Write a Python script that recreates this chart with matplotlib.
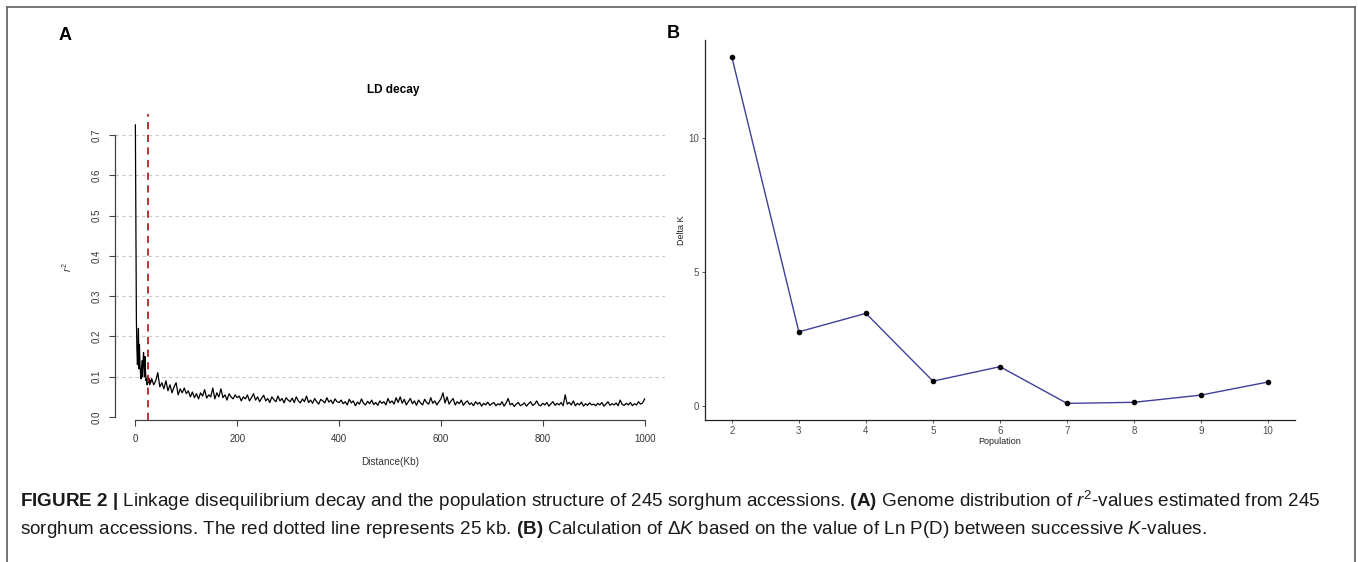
import numpy as np
import matplotlib
matplotlib.use("Agg")
import matplotlib.pyplot as plt
from matplotlib.lines import Line2D

plt.rcParams['font.family'] = ['Liberation Sans', 'DejaVu Sans']
plt.rcParams['mathtext.fontset'] = 'custom'
plt.rcParams['mathtext.rm'] = 'Liberation Sans'
plt.rcParams['mathtext.it'] = 'Liberation Sans:italic'
plt.rcParams['mathtext.bf'] = 'Liberation Sans:bold'

# ---------------- data ----------------
# Panel A: LD decay (distance in Kb, r^2)
ld_distance_start = list(range(0, 31))
ld_r2_start = [0.725, 0.49, 0.24, 0.17, 0.13, 0.15, 0.22, 0.12, 0.18, 0.13,
               0.11, 0.095, 0.12, 0.14, 0.10, 0.13, 0.16, 0.14, 0.10, 0.15,
               0.11, 0.09, 0.095, 0.08, 0.10, 0.09, 0.085, 0.095, 0.08, 0.09, 0.085]
ld_distance_rest = list(range(32, 1001, 4))
ld_r2_rest = [
    # 32-100
    0.095, 0.08, 0.09, 0.11, 0.075, 0.085, 0.07, 0.09, 0.065, 0.08, 0.06, 0.075,
    0.085, 0.055, 0.07, 0.06, 0.072, 0.058,
    # 104-200
    0.065, 0.05, 0.062, 0.048, 0.058, 0.045, 0.06, 0.052, 0.068, 0.047, 0.055, 0.05,
    0.072, 0.045, 0.06, 0.05, 0.07, 0.048, 0.055, 0.042, 0.058, 0.05, 0.045, 0.055, 0.048,
    # 204-300
    0.052, 0.04, 0.05, 0.045, 0.055, 0.04, 0.048, 0.058, 0.042, 0.05, 0.038, 0.047,
    0.054, 0.04, 0.046, 0.036, 0.05, 0.043, 0.038, 0.052, 0.04, 0.046, 0.035, 0.048, 0.042,
    # 304-400
    0.038, 0.047, 0.036, 0.05, 0.04, 0.035, 0.045, 0.038, 0.052, 0.036, 0.042, 0.034,
    0.046, 0.038, 0.032, 0.044, 0.04, 0.035, 0.048, 0.037, 0.042, 0.033, 0.045, 0.038, 0.036,
    # 404-500
    0.042, 0.033, 0.038, 0.03, 0.044, 0.035, 0.04, 0.028, 0.037, 0.032, 0.045, 0.034,
    0.03, 0.039, 0.033, 0.042, 0.031, 0.036, 0.029, 0.04, 0.034, 0.038, 0.03, 0.046, 0.035,
    # 504-600
    0.04, 0.032, 0.048, 0.036, 0.05, 0.034, 0.044, 0.03, 0.038, 0.046, 0.033, 0.04,
    0.029, 0.042, 0.035, 0.03, 0.044, 0.036, 0.032, 0.048, 0.034, 0.04, 0.03, 0.038, 0.045,
    # 604-700
    0.06, 0.035, 0.05, 0.032, 0.04, 0.046, 0.03, 0.038, 0.033, 0.042, 0.029, 0.036,
    0.04, 0.031, 0.035, 0.028, 0.038, 0.032, 0.036, 0.027, 0.034, 0.03, 0.037, 0.029, 0.033,
    # 704-800
    0.036, 0.028, 0.033, 0.03, 0.038, 0.027, 0.035, 0.046, 0.03, 0.034, 0.026, 0.032,
    0.036, 0.028, 0.031, 0.035, 0.027, 0.033, 0.038, 0.029, 0.032, 0.04, 0.03, 0.028, 0.034,
    # 804-900
    0.03, 0.036, 0.027, 0.033, 0.038, 0.029, 0.034, 0.03, 0.036, 0.028, 0.055, 0.032,
    0.036, 0.03, 0.04, 0.028, 0.034, 0.03, 0.037, 0.027, 0.033, 0.029, 0.035, 0.03, 0.032,
    # 904-1000
    0.028, 0.034, 0.03, 0.036, 0.027, 0.032, 0.038, 0.029, 0.033, 0.03, 0.035, 0.028,
    0.042, 0.031, 0.029, 0.034, 0.03, 0.036, 0.028, 0.033, 0.03, 0.038, 0.032, 0.035, 0.045,
]
ld_distance = ld_distance_start + ld_distance_rest
ld_r2 = ld_r2_start + ld_r2_rest
n = min(len(ld_distance), len(ld_r2))
ld_distance, ld_r2 = ld_distance[:n], ld_r2[:n]

ld_threshold_kb = 25
a_xticks = [0, 200, 400, 600, 800, 1000]
a_yticks = [0.0, 0.1, 0.2, 0.3, 0.4, 0.5, 0.6, 0.7]

# Panel B: Delta K
k_values = [2, 3, 4, 5, 6, 7, 8, 9, 10]
delta_k = [13.03, 2.77, 3.46, 0.93, 1.47, 0.10, 0.14, 0.41, 0.90]
b_yticks = [0, 5, 10]

caption_line1 = (r"$\mathbf{FIGURE\ 2\ |}$ Linkage disequilibrium decay and the population structure "
                 r"of 245 sorghum accessions. $\mathbf{(A)}$ Genome distribution of "
                 r"$\mathit{r}^{2}$-values estimated from 245")
caption_line2 = (r"sorghum accessions. The red dotted line represents 25 kb. $\mathbf{(B)}$ "
                 r"Calculation of $\Delta\mathit{K}$ based on the value of Ln P(D) between "
                 r"successive $\mathit{K}$-values.")

# ---------------- figure ----------------
W, H = 1358, 562
fig = plt.figure(figsize=(W / 100, H / 100), dpi=100)
fig.patch.set_facecolor('white')


def fx(x):
    return x / W


def fy(y):
    return 1 - y / H


# border
for (x0, y0, x1, y1) in [(7, 7, 1355, 7), (7, 7, 7, 562), (1355, 7, 1355, 562)]:
    fig.add_artist(Line2D([fx(x0), fx(x1)], [fy(y0), fy(y1)], transform=fig.transFigure,
                          color='#6a6a6a', lw=1.3))

fig.text(fx(65), fy(35), 'A', fontsize=13, fontweight='bold', ha='center', va='center')
fig.text(fx(673), fy(33), 'B', fontsize=13, fontweight='bold', ha='center', va='center')

# ---------- Panel A ----------
axA = fig.add_axes([fx(115), fy(420), (665 - 115) / W, (420 - 114) / H])
axA.set_xlim(-40, 1040)
axA.set_ylim(-0.0074, 0.752)
for yv in a_yticks[1:]:
    axA.axhline(yv, color='#c8c8c8', lw=0.8, ls=(0, (3, 3)), zorder=0)
axA.plot(ld_distance, ld_r2, color='black', lw=0.9, zorder=2)
axA.axvline(ld_threshold_kb, color='#b22222', lw=1.3, ls=(0, (4, 3)), zorder=3)
for s in ['top', 'right']:
    axA.spines[s].set_visible(False)
axA.spines['left'].set_bounds(0, 0.7)
axA.spines['bottom'].set_bounds(0, 1000)
for s in ['left', 'bottom']:
    axA.spines[s].set_color('#444444')
    axA.spines[s].set_linewidth(0.9)
axA.set_xticks(a_xticks)
axA.set_xticklabels([str(v) for v in a_xticks])
axA.set_yticks(a_yticks)
axA.set_yticklabels([f"{v:.1f}" for v in a_yticks], rotation=90, va='center')
axA.tick_params(axis='both', length=4, width=0.8, color='#444444', labelcolor='#333333',
                labelsize=7)
axA.tick_params(axis='x', pad=6)
axA.tick_params(axis='y', pad=5.5)
fig.text(fx(393), fy(90), 'LD decay', fontsize=8.5, fontweight='bold', ha='center', va='center')
fig.text(fx(390), fy(462), 'Distance(Kb)', fontsize=7.2, color='#333333', ha='center', va='center')
fig.text(fx(67), fy(267), r'$r^2$', fontsize=7.5, color='#333333', ha='center', va='center',
         rotation=90)
axA.patch.set_alpha(0)

# ---------- Panel B ----------
axB = fig.add_axes([fx(705), fy(420), (1295 - 705) / W, (420 - 40) / H])
axB.set_xlim(1.6, 10.4)
axB.set_ylim(-0.52, 13.66)
axB.plot(k_values, delta_k, color='#40409a', lw=1.0, zorder=2)
axB.scatter(k_values, delta_k, s=9, color='black', zorder=3)
for s in ['top', 'right']:
    axB.spines[s].set_visible(False)
for s in ['left', 'bottom']:
    axB.spines[s].set_color('#222222')
    axB.spines[s].set_linewidth(0.9)
axB.set_xticks(k_values)
axB.set_yticks(b_yticks)
axB.tick_params(axis='both', length=2.5, width=0.7, color='#555555', labelcolor='#4d4d4d',
                labelsize=7, pad=2)
fig.text(fx(682), fy(230), 'Delta K', fontsize=6.5, color='#222222', ha='center', va='center',
         rotation=90)
fig.text(fx(1000), fy(441), 'Population', fontsize=6.5, color='#222222', ha='center', va='center')

# ---------- caption ----------
fig.text(fx(20), fy(501), caption_line1, fontsize=13.6, ha='left', va='center', color='#1a1a1a')
fig.text(fx(20), fy(530), caption_line2, fontsize=13.6, ha='left', va='center', color='#1a1a1a')

fig.savefig('out.png', dpi=100, facecolor='white')
